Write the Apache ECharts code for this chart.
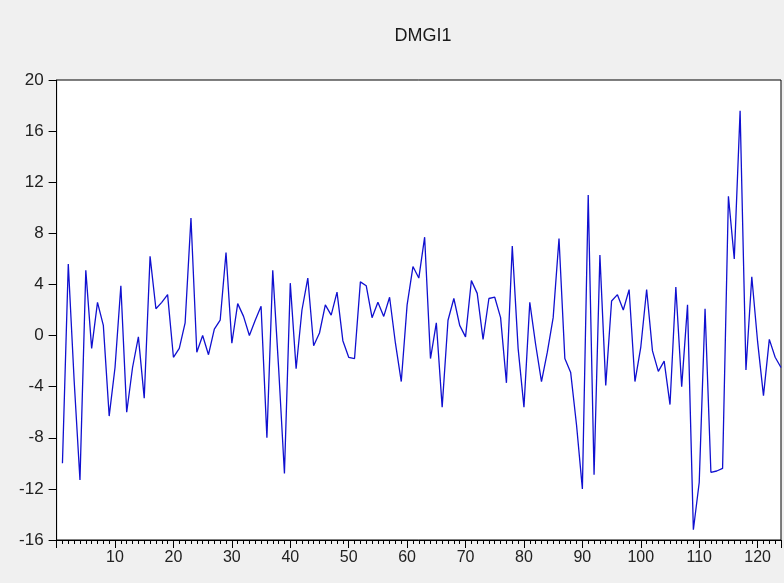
<!DOCTYPE html>
<html>
<head>
<meta charset="utf-8">
<script src="https://cdn.jsdelivr.net/npm/echarts@6/dist/echarts.min.js"></script>
<style>
html,body{margin:0;padding:0;background:#f0f0f0;}
#chart{width:784px;height:583px;}
</style>
</head>
<body>
<div id="chart"></div>
<script>
const TITLE = 'DMGI1';
const FIRST_OBS = 1;
const dmgi1 = [
  -10.0, 5.6, -3.5, -11.3, 5.1, -1.0, 2.6, 0.8, -6.3, -2.5,
  3.9, -6.0, -2.5, -0.1, -4.9, 6.2, 2.1, 2.6, 3.2, -1.7,
  -1.0, 1.0, 9.2, -1.3, 0.0, -1.5, 0.5, 1.2, 6.5, -0.6,
  2.5, 1.5, 0.0, 1.2, 2.3, -8.0, 5.1, -2.5, -10.8, 4.1,
  -2.6, 2.0, 4.5, -0.8, 0.2, 2.4, 1.6, 3.4, -0.4, -1.7,
  -1.8, 4.2, 3.9, 1.4, 2.6, 1.5, 3.0, -0.6, -3.6, 2.4,
  5.4, 4.5, 7.7, -1.8, 1.0, -5.6, 1.2, 2.9, 0.8, -0.1,
  4.3, 3.3, -0.3, 2.9, 3.0, 1.4, -3.7, 7.0, -1.0, -5.6,
  2.6, -0.7, -3.6, -1.3, 1.4, 7.6, -1.8, -2.9, -7.0, -12.0,
  11.0, -10.9, 6.3, -3.9, 2.7, 3.2, 2.0, 3.6, -3.6, -0.9,
  3.6, -1.2, -2.8, -2.0, -5.4, 3.8, -4.0, 2.4, -15.2, -11.5,
  2.1, -10.7, -10.6, -10.4, 10.9, 6.0, 17.6, -2.7, 4.6, -0.5,
  -4.7, -0.3, -1.7, -2.5
];
const yTicks = [-16, -12, -8, -4, 0, 4, 8, 12, 16, 20];
const xLabelStep = 10;

const seriesData = dmgi1.map((v, i) => [FIRST_OBS + i, v]);

const chart = echarts.init(document.getElementById('chart'), null, {renderer: 'canvas'});
const FONT = 'Liberation Sans, Arial, sans-serif';
chart.setOption({
  animation: false,
  backgroundColor: '#f0f0f0',
  graphic: [{
    type: 'text',
    x: 423, y: 36,
    style: {text: TITLE, font: '18px ' + FONT, fill: '#1a1a1a', textAlign: 'center', textVerticalAlign: 'middle'}
  }],
  grid: {
    left: 56.6, right: -4.2, top: 80, bottom: 43,
    show: true, backgroundColor: '#ffffff', borderColor: '#000000', borderWidth: 1
  },
  xAxis: [{
    type: 'value', min: 0, max: 124, interval: xLabelStep,
    axisLine: {show: true, onZero: false, lineStyle: {color: '#000', width: 1}},
    axisTick: {show: true, length: 8, lineStyle: {color: '#000'}},
    splitLine: {show: false},
    axisLabel: {
      color: '#222', fontSize: 16, fontFamily: FONT, margin: 10,
      formatter: v => (v > 0 && v % xLabelStep === 0 && v <= 120) ? String(v) : ''
    }
  }, {
    type: 'value', min: 0, max: 124, interval: 1, position: 'bottom',
    axisLine: {show: false, onZero: false},
    axisTick: {show: true, length: 4, lineStyle: {color: '#000'}},
    axisLabel: {show: false},
    splitLine: {show: false}
  }],
  yAxis: {
    type: 'value', min: yTicks[0], max: yTicks[yTicks.length - 1], interval: 4,
    axisLine: {show: true, onZero: false, lineStyle: {color: '#000', width: 1}},
    axisTick: {show: true, length: 8, lineStyle: {color: '#000'}},
    splitLine: {show: false},
    axisLabel: {color: '#222', fontSize: 17, fontFamily: FONT, margin: 13}
  },
  series: [{
    type: 'line',
    xAxisIndex: 0,
    data: seriesData,
    showSymbol: false,
    lineStyle: {color: '#1010d0', width: 1.3},
    clip: true
  }]
});
</script>
</body>
</html>
